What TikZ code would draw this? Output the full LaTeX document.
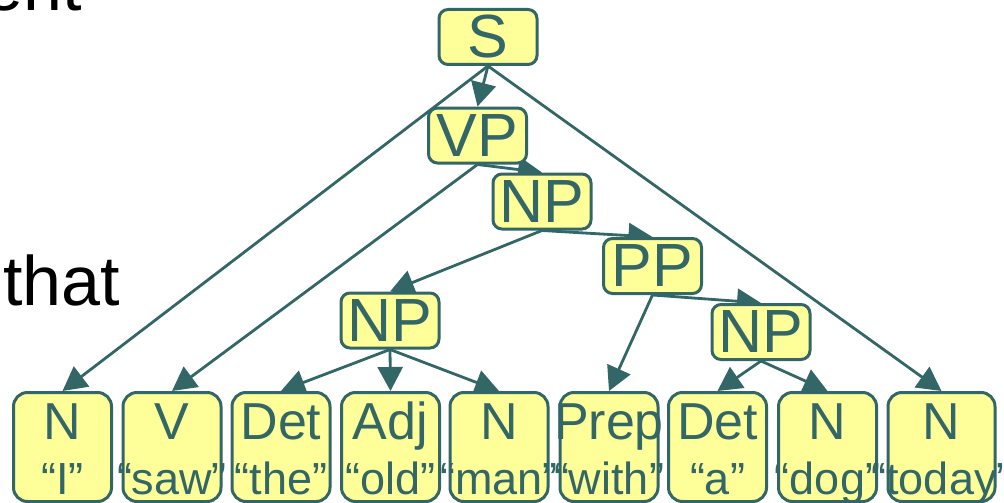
\documentclass[tikz,border=0pt]{standalone}
\usepackage{fontspec}
\setmainfont{Liberation Sans}
\usetikzlibrary{arrows.meta}
\pgfdeclarelayer{bg}
\pgfsetlayers{bg,main}
\definecolor{tealdk}{RGB}{51,102,102}
\definecolor{pale}{RGB}{255,255,153}
\begin{document}
\begin{tikzpicture}[x=1pt,y=-1pt,
  inner/.style={draw=tealdk, fill=pale, line width=3pt, rounded corners=9pt,
    minimum width=98pt, minimum height=55pt, inner sep=0pt, text=tealdk,
    font=\fontsize{61}{61}\selectfont},
  leaf/.style={draw=tealdk, fill=pale, line width=3pt, rounded corners=14pt,
    minimum height=109pt, inner sep=0pt},
  toptext/.style={text=tealdk, font=\fontsize{52}{52}\selectfont, anchor=base, inner sep=0pt},
  bottext/.style={text=tealdk, font=\fontsize{45}{45}\selectfont, anchor=base, inner sep=0pt},
  edge/.style={draw=tealdk, line width=2.8pt, -{Triangle[length=24pt,width=25pt]}},
  slide/.style={text=black, font=\fontsize{70}{70}\selectfont, inner sep=0pt}]
\useasboundingbox (0,0) rectangle (1004,503);
\clip (0,0) rectangle (1004,503);

\node[slide, anchor=base east] (ent) at (82,11) {ent};
\node[slide, anchor=base west] (that) at (3,305) {that};

\node[inner] (S) at (488,37) {S};
\node[inner] (VP) at (477.5,135.5) {VP};
\node[inner] (NP1) at (542,201.5) {NP};
\node[inner] (PP) at (652.5,266) {PP};
\node[inner] (NP2) at (390,320.5) {NP};
\node[inner] (NP3) at (761,332) {NP};

\foreach \n/\x/\w/\a/\b in {l1/62.5/98/N/“I”, l2/172/98/V/“saw”, l3/281/98/Det/“the”,
  l4/390.5/98/Adj/“old”, l5/499/98/N/“man”, l6/609/98/Prep/“with”,
  l7/717.5/98/Det/“a”, l8/827.5/98/N/“dog”, l9/941.5/107/N/“today”}{
  \node[leaf, minimum width=\w pt] (\n) at (\x,447) {};
  \node[toptext] (\n-t) at (\x,439) {\a};
  \node[bottext] (\n-b) at (\x,494) {\b};
}

\begin{pgfonlayer}{bg}
\draw[edge] (S.south) -- (VP.north);
\draw[edge] (S.south) -- (l1.north);
\draw[edge] (S.south) -- (l9.north);
\draw[edge] (VP.south) -- (l2.north);
\draw[edge] (VP.south) -- (NP1.north);
\draw[edge] (NP1.south) -- (NP2.north);
\draw[edge] (NP1.south) -- (PP.north);
\draw[edge] (NP2.south) -- (l3.north);
\draw[edge] (NP2.south) -- (l4.north);
\draw[edge] (NP2.south) -- (l5.north);
\draw[edge] (PP.south) -- (l6.north);
\draw[edge] (PP.south) -- (NP3.north);
\draw[edge] (NP3.south) -- (l7.north);
\draw[edge] (NP3.south) -- (l8.north);
\end{pgfonlayer}
\end{tikzpicture}
\end{document}
